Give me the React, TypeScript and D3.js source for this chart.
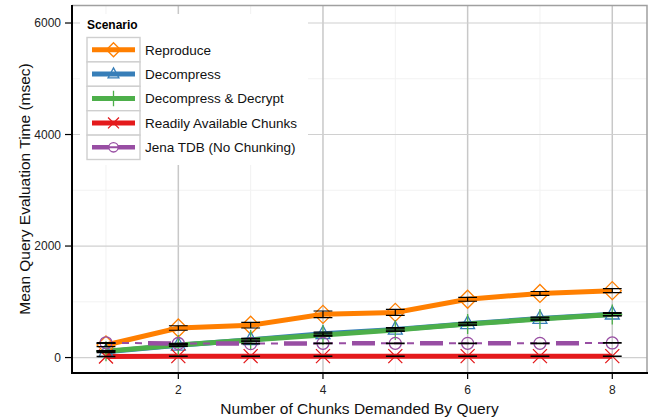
import React, { useEffect, useRef } from "react";
import * as d3 from "d3";

// chunks demanded by query
const chunks = [1, 2, 3, 4, 5, 6, 7, 8];

const seriesNames = [
  "Reproduce",
  "Decompress",
  "Decompress & Decrypt",
  "Readily Available Chunks",
  "Jena TDB (No Chunking)",
];

// mean evaluation time (msec)
const reproduce = [225, 530, 580, 775, 810, 1045, 1150, 1200];
const decompress = [105, 220, 320, 425, 505, 605, 700, 778];
const decompressDecrypt = [115, 225, 314, 403, 493, 600, 690, 772];
const readilyAvailable = [20, 25, 25, 25, 25, 25, 25, 25];
const jenaTdb = [265, 252, 250, 255, 255, 255, 255, 262];

// error (+/-)
const reproduceErr = [30, 40, 50, 60, 55, 35, 35, 35];
const decompressErr = [15, 20, 25, 30, 30, 25, 25, 30];
const decompressDecryptErr = [10, 15, 20, 20, 20, 20, 20, 20];
const readilyAvailableErr = [3, 3, 3, 3, 3, 3, 3, 3];
const jenaTdbErr = [5, 5, 5, 5, 5, 5, 5, 5];

const yTicks = [0, 2000, 4000, 6000];
const xTicks = [2, 4, 6, 8];

const colors = ["#FF7F00", "#377EB8", "#4DAF4A", "#E41A1C", "#984EA3"];
const shapes = ["diamond", "triangle", "plus", "cross", "circle"];

const App = () => {
  const chartRef = useRef(null);

  useEffect(() => {
    d3.select(chartRef.current).select("svg").remove();

    const W = 660;
    const H = 420;
    const margin = { top: 5, right: 13, bottom: 47, left: 72 };
    const width = W - margin.left - margin.right;
    const height = H - margin.top - margin.bottom;
    const font = "Liberation Sans, Arial, Helvetica, sans-serif";

    const svg = d3
      .select(chartRef.current)
      .append("svg")
      .attr("width", W)
      .attr("height", H)
      .style("position", "absolute")
      .style("left", 0)
      .style("top", 0)
      .style("font-family", font);

    const g = svg.append("g").attr("transform", `translate(${margin.left},${margin.top})`);

    const x = d3.scaleLinear().domain([0.53, 8.48]).range([0, width]);
    const y = d3.scaleLinear().domain([-277, 6323]).range([height, 0]);

    // minor grid
    [1, 3, 5, 7].forEach((v) => {
      g.append("line").attr("x1", x(v)).attr("x2", x(v)).attr("y1", 0).attr("y2", height)
        .attr("stroke", "#f2f2f2").attr("stroke-width", 1);
    });
    [1000, 3000, 5000].forEach((v) => {
      g.append("line").attr("x1", 0).attr("x2", width).attr("y1", y(v)).attr("y2", y(v))
        .attr("stroke", "#f2f2f2").attr("stroke-width", 1);
    });
    // major grid
    xTicks.forEach((v) => {
      g.append("line").attr("x1", x(v)).attr("x2", x(v)).attr("y1", 0).attr("y2", height)
        .attr("stroke", "#c8c8c8").attr("stroke-width", 1.5);
    });
    yTicks.forEach((v) => {
      g.append("line").attr("x1", 0).attr("x2", width).attr("y1", y(v)).attr("y2", y(v))
        .attr("stroke", "#d0d0d0").attr("stroke-width", 1.2);
    });

    // panel border top/right
    g.append("path").attr("d", `M0,0.5H${width}V${height}`).attr("fill", "none")
      .attr("stroke", "#a0a0a0").attr("stroke-width", 1.5);

    const values = [reproduce, decompress, decompressDecrypt, readilyAvailable, jenaTdb];
    const errors = [reproduceErr, decompressErr, decompressDecryptErr, readilyAvailableErr, jenaTdbErr];

    const line = d3.line().x((d) => x(d[0])).y((d) => y(d[1]));

    const drawShape = (sel, shape, color, cx, cy, s) => {
      const k = s || 1;
      if (shape === "diamond") {
        const r = 9 * k;
        sel.append("path").attr("d", `M${cx},${cy - r}L${cx + r},${cy}L${cx},${cy + r}L${cx - r},${cy}Z`)
          .attr("fill", "none").attr("stroke", color).attr("stroke-width", 1.3);
      } else if (shape === "triangle") {
        const r = 8 * k;
        sel.append("path")
          .attr("d", `M${cx},${cy - r}L${cx + r * 0.87},${cy + r * 0.6}L${cx - r * 0.87},${cy + r * 0.6}Z`)
          .attr("fill", "none").attr("stroke", color).attr("stroke-width", 1.3);
      } else if (shape === "plus") {
        const r = 10 * k;
        sel.append("path").attr("d", `M${cx - r},${cy}H${cx + r}M${cx},${cy - r}V${cy + r}`)
          .attr("stroke", color).attr("stroke-width", 1.3);
      } else if (shape === "cross") {
        const r = 7 * k;
        sel.append("path").attr("d", `M${cx - r},${cy - r}L${cx + r},${cy + r}M${cx - r},${cy + r}L${cx + r},${cy - r}`)
          .attr("stroke", color).attr("stroke-width", 1.3);
      } else {
        sel.append("circle").attr("cx", cx).attr("cy", cy).attr("r", 6 * k)
          .attr("fill", "none").attr("stroke", color).attr("stroke-width", 1.3);
      }
    };

    // lines
    values.forEach((vals, i) => {
      const pts = chunks.map((c, j) => [c, vals[j]]);
      if (i === 4) {
        g.append("path").datum(pts).attr("d", line).attr("fill", "none")
          .attr("stroke", colors[i]).attr("stroke-width", 4.5)
          .attr("stroke-dasharray", "23 45").attr("stroke-dashoffset", 26);
        g.append("path").datum(pts).attr("d", line).attr("fill", "none")
          .attr("stroke", colors[i]).attr("stroke-width", 2)
          .attr("stroke-dasharray", "0 29 7 6 7 6 7 6").attr("stroke-dashoffset", 26);
      } else {
        g.append("path").datum(pts).attr("d", line).attr("fill", "none")
          .attr("stroke", colors[i]).attr("stroke-width", 5);
      }
    });

    // points
    values.forEach((vals, i) => {
      chunks.forEach((c, j) => drawShape(g, shapes[i], colors[i], x(c), y(vals[j])));
    });

    // error bars
    const cap = 0.13;
    values.forEach((vals, i) => {
      chunks.forEach((c, j) => {
        const lo = y(vals[j] - errors[i][j]);
        const hi = y(vals[j] + errors[i][j]);
        g.append("path")
          .attr("d", `M${x(c - cap)},${hi}H${x(c + cap)}M${x(c)},${hi}V${lo}M${x(c - cap)},${lo}H${x(c + cap)}`)
          .attr("fill", "none").attr("stroke", "#000").attr("stroke-width", 1.2);
      });
    });

    // axes
    g.append("line").attr("x1", 0).attr("x2", 0).attr("y1", 0).attr("y2", height + 1)
      .attr("stroke", "#000").attr("stroke-width", 2);
    g.append("line").attr("x1", -1).attr("x2", width + 1).attr("y1", height).attr("y2", height)
      .attr("stroke", "#000").attr("stroke-width", 2);

    yTicks.forEach((v) => {
      g.append("line").attr("x1", -7).attr("x2", 0).attr("y1", y(v)).attr("y2", y(v))
        .attr("stroke", "#000").attr("stroke-width", 1.2);
      g.append("text").attr("x", -11).attr("y", y(v)).attr("dy", "0.35em")
        .attr("text-anchor", "end").style("font-size", "12px").attr("fill", "#222").text(v);
    });
    xTicks.forEach((v) => {
      g.append("line").attr("x1", x(v)).attr("x2", x(v)).attr("y1", height).attr("y2", height + 6)
        .attr("stroke", "#000").attr("stroke-width", 1.2);
      g.append("text").attr("x", x(v)).attr("y", height + 21)
        .attr("text-anchor", "middle").style("font-size", "12px").attr("fill", "#222").text(v);
    });

    // axis titles
    svg.append("text").attr("x", margin.left + width / 2).attr("y", 414)
      .attr("text-anchor", "middle").style("font-size", "15.5px").attr("fill", "#111")
      .text("Number of Chunks Demanded By Query");
    svg.append("text").attr("transform", `translate(30,${margin.top + 184}) rotate(-90)`)
      .attr("text-anchor", "middle").style("font-size", "15.5px").attr("fill", "#111")
      .text("Mean Query Evaluation Time (msec)");

    // legend
    const lg = svg.append("g").attr("transform", "translate(80,14)");
    lg.append("rect").attr("width", 228).attr("height", 151).attr("fill", "#fff");
    lg.append("text").attr("x", 7).attr("y", 15).style("font-size", "12px")
      .style("font-weight", "bold").text("Scenario");
    const keyH = 24.4;
    seriesNames.forEach((name, i) => {
      const ky = 23.5 + i * keyH;
      const row = lg.append("g");
      row.append("rect").attr("x", 7).attr("y", ky).attr("width", 53).attr("height", keyH)
        .attr("fill", "#fff").attr("stroke", "#cfcfcf").attr("stroke-width", 1.4);
      const cy = ky + keyH / 2;
      if (i === 4) {
        row.append("line").attr("x1", 12).attr("x2", 55).attr("y1", cy).attr("y2", cy)
          .attr("stroke", colors[i]).attr("stroke-width", 4.5).attr("stroke-dasharray", "17 9 17");
        row.append("line").attr("x1", 12).attr("x2", 55).attr("y1", cy).attr("y2", cy)
          .attr("stroke", colors[i]).attr("stroke-width", 2);
      } else {
        row.append("line").attr("x1", 12).attr("x2", 55).attr("y1", cy).attr("y2", cy)
          .attr("stroke", colors[i]).attr("stroke-width", 5);
      }
      drawShape(row, shapes[i], colors[i], 33.5, cy, 0.78);
      row.append("text").attr("x", 65).attr("y", cy).attr("dy", "0.36em")
        .style("font-size", "13.5px").attr("fill", "#111").text(name);
    });
  }, []);

  return <div ref={chartRef}></div>;
};

export default App;
